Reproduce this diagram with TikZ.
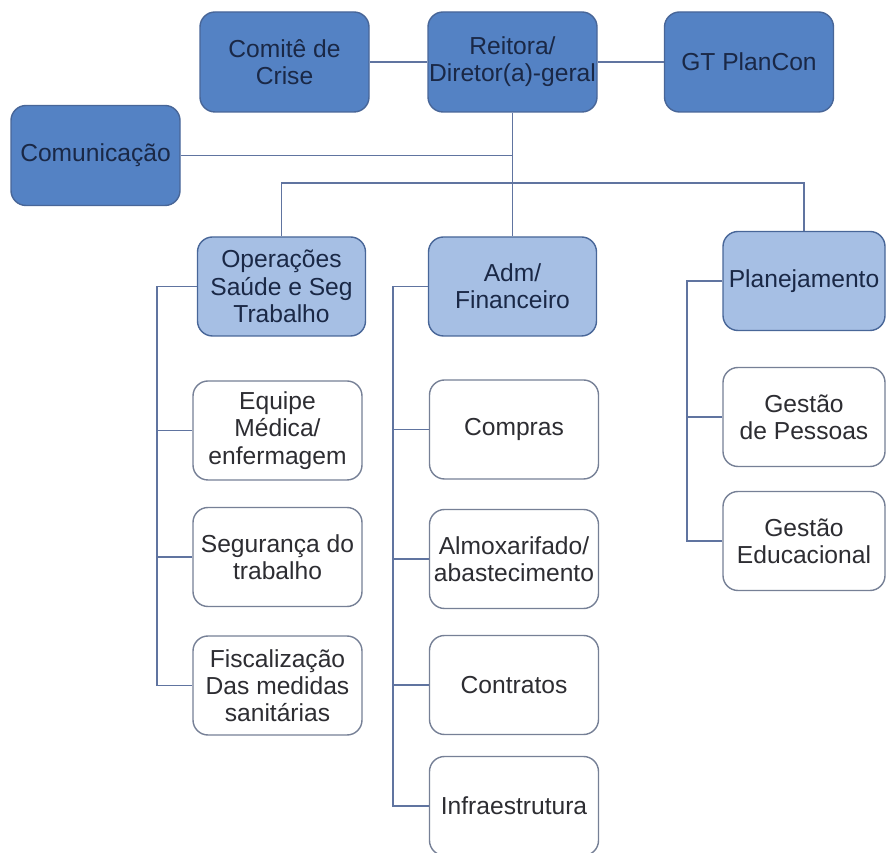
\documentclass[tikz,border=0pt]{standalone}
\usepackage{fontspec}
\setmainfont{Liberation Sans}
\usepackage{xcolor}
\definecolor{topBlue}{RGB}{84, 130, 196}
\definecolor{midBlue}{RGB}{166, 191, 228}
\definecolor{edgeBlue}{RGB}{72, 102, 152}
\definecolor{leafEdge}{RGB}{118, 128, 150}
\definecolor{lineColor}{RGB}{96, 116, 160}
\definecolor{navyText}{RGB}{26, 40, 70}
\definecolor{grayText}{RGB}{45, 45, 50}

\tikzset{
    topbox/.style={rectangle, rounded corners=0.3cm, draw=edgeBlue, line width=0.8pt, fill=topBlue, text=navyText, align=center, inner sep=0pt, minimum width=3.38cm, minimum height=2cm},
    midbox/.style={rectangle, rounded corners=0.3cm, draw=edgeBlue, line width=0.8pt, fill=midBlue, text=navyText, align=center, inner sep=0pt, minimum width=3.36cm, minimum height=1.98cm},
    leafbox/.style={rectangle, rounded corners=0.3cm, draw=leafEdge, line width=0.8pt, fill=white, text=grayText, align=center, inner sep=0pt, minimum width=3.38cm, minimum height=1.98cm},
    link/.style={draw=lineColor, line width=1.1pt}
}

\begin{document}
\begin{tikzpicture}[font=\fontsize{14}{15.5}\selectfont]
    \useasboundingbox (0,0) rectangle (17.72,17.06);
    % Top level
    \node[topbox] (comite) at (5.69,15.82) {Comitê de\\Crise};
    \node[topbox] (reitora) at (10.25,15.82) {Reitora/\\Diretor(a)-geral};
    \node[topbox] (gt) at (14.98,15.82) {GT PlanCon};
    \node[topbox] (comunicacao) at (1.91,13.95) {Comunicação};

    % Second level
    \node[midbox] (ops) at (5.63,11.33) {Operações\\Saúde e Seg\\Trabalho};
    \node[midbox] (adm) at (10.25,11.33) {Adm/\\Financeiro};
    \node[midbox, minimum width=3.24cm] (plan) at (16.08,11.44) {Planejamento};

    % Operacoes column
    \node[leafbox] (equipe) at (5.55,8.45) {Equipe\\Médica/\\enfermagem};
    \node[leafbox] (seguranca) at (5.55,5.92) {Segurança do\\trabalho};
    \node[leafbox] (fiscal) at (5.55,3.35) {Fiscalização\\Das medidas\\sanitárias};

    % Adm column
    \node[leafbox] (compras) at (10.28,8.47) {Compras};
    \node[leafbox] (almox) at (10.28,5.88) {Almoxarifado/\\abastecimento};
    \node[leafbox] (contratos) at (10.28,3.36) {Contratos};
    \node[leafbox] (infra) at (10.28,0.94) {Infraestrutura};

    % Planejamento column
    \node[leafbox, minimum width=3.24cm] (pessoas) at (16.08,8.72) {Gestão\\de Pessoas};
    \node[leafbox, minimum width=3.24cm] (educ) at (16.08,6.24) {Gestão\\Educacional};

    % Links
    \draw[link] (comite) -- (reitora);
    \draw[link] (reitora) -- (gt);
    \draw[link] (reitora.south) -- (adm.north);
    \draw[link] (comunicacao.east) -- (reitora.south |- comunicacao.east);
    \coordinate (bus) at (10.25,13.40);
    \draw[link] (ops.north) |- (bus) -| (plan.north);

    \draw[link] (ops.west) -- ++(-0.8,0) coordinate (opsSpine) |- (fiscal.west);
    \draw[link] (equipe.west) -- (opsSpine |- equipe.west);
    \draw[link] (seguranca.west) -- (opsSpine |- seguranca.west);

    \draw[link] (adm.west) -- ++(-0.7,0) coordinate (admSpine) |- (infra.west);
    \draw[link] (compras.west) -- (admSpine |- compras.west);
    \draw[link] (almox.west) -- (admSpine |- almox.west);
    \draw[link] (contratos.west) -- (admSpine |- contratos.west);

    \draw[link] (plan.west) -- ++(-0.7,0) coordinate (planSpine) |- (educ.west);
    \draw[link] (pessoas.west) -- (planSpine |- pessoas.west);
\end{tikzpicture}
\end{document}
